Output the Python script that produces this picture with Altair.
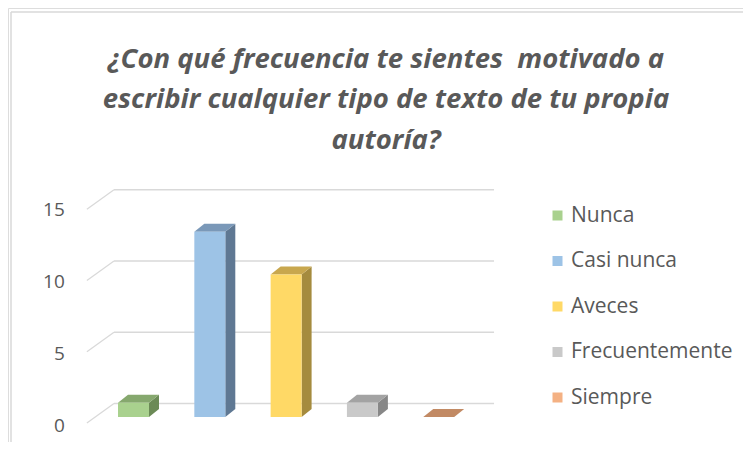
import altair as alt
import pandas as pd

# ---- data ----
categories = ["Nunca", "Casi nunca", "Aveces", "Frecuentemente", "Siempre"]
values = [1, 13, 10, 1, 0]
ticks = [0, 5, 10, 15]
front_colors = ["#A9D18E", "#9DC3E6", "#FFD966", "#C9C9C9", "#F4B183"]
top_colors = ["#86A86E", "#7A98B8", "#C8A74E", "#A3A3A3", "#C28A64"]
side_colors = ["#6B8A56", "#5F7893", "#A58B3E", "#878787", "#9E6E4E"]
title_lines = [
    "¿Con qué frecuencia te sientes\u00a0 motivado a",
    "escribir cualquier tipo de texto de tu propia",
    "autoría?",
]

# ---- 3-D look (style constants, in scale units) ----
hw = 0.203               # half bar width
tdx, tdy = 0.131, 0.56   # bar depth
front_x, front_dy = -0.611, -0.42   # front plane: left edge, vertical offset
back_x, back_dy = -0.256, 0.947     # back wall: left edge, vertical offset
wall_right = 4.725
label_x = -0.90
label_dy = -0.62

bars = pd.DataFrame({
    "cat": categories, "value": values, "base": [0] * len(values),
    "x1": [i - hw for i in range(5)], "x2": [i + hw for i in range(5)],
})

face_rows = []
for i, (c, v) in enumerate(zip(categories, values)):
    L, R = i - hw, i + hw
    # side face (parallelogram on the right)
    face_rows += [
        {"face": f"s{i}", "x": R, "lo": 0, "hi": v, "col": side_colors[i]},
        {"face": f"s{i}", "x": R + tdx, "lo": tdy, "hi": v + tdy, "col": side_colors[i]},
    ]
    # top face (parallelogram on top)
    face_rows += [
        {"face": f"t{i}", "x": L, "lo": v, "hi": v, "col": top_colors[i]},
        {"face": f"t{i}", "x": L + tdx, "lo": v, "hi": v + tdy, "col": top_colors[i]},
        {"face": f"t{i}", "x": R, "lo": v, "hi": v + tdy, "col": top_colors[i]},
        {"face": f"t{i}", "x": R + tdx, "lo": v + tdy, "hi": v + tdy, "col": top_colors[i]},
    ]
faces = pd.DataFrame(face_rows)

grid = pd.DataFrame({
    "xf": [front_x] * len(ticks), "yf": [t + front_dy for t in ticks],
    "xb": [back_x] * len(ticks), "yb": [t + back_dy for t in ticks],
    "xr": [wall_right] * len(ticks),
})
labels = pd.DataFrame({"t": [str(t) for t in ticks], "y": [t * 1.01 + label_dy for t in ticks],
                       "x": [label_x] * len(ticks)})

W, H = 735, 434
xs = alt.Scale(domain=[-1.645, 7.988], nice=False, zero=False)
ys = alt.Scale(domain=[-1.754, 28.70], nice=False, zero=False)

grid_back = alt.Chart(grid).mark_rule(color="#D9D9D9", strokeWidth=1.3).encode(
    x=alt.X("xb:Q", scale=xs, axis=None), x2="xr:Q", y=alt.Y("yb:Q", scale=ys, axis=None)
)
grid_diag = alt.Chart(grid).mark_rule(color="#D9D9D9", strokeWidth=1.3).encode(
    x=alt.X("xf:Q", scale=xs, axis=None), x2="xb:Q",
    y=alt.Y("yf:Q", scale=ys, axis=None), y2="yb:Q"
)
tick_text = alt.Chart(labels).mark_text(
    align="right", baseline="middle", font="Open Sans", fontSize=19, color="#595959"
).encode(x=alt.X("x:Q", scale=xs, axis=None), y=alt.Y("y:Q", scale=ys, axis=None), text="t:N")

face_layer = alt.Chart(faces).mark_area(opacity=1, interpolate="linear").encode(
    x=alt.X("x:Q", scale=xs, axis=None),
    y=alt.Y("lo:Q", scale=ys, axis=None), y2="hi:Q",
    detail="face:N", fill=alt.Fill("col:N", scale=None),
)

front = alt.Chart(bars).mark_bar(opacity=1).encode(
    x=alt.X("x1:Q", scale=xs, axis=None), x2="x2:Q",
    y=alt.Y("value:Q", scale=ys, axis=None), y2="base:Q",
    color=alt.Color("cat:N", scale=alt.Scale(domain=categories, range=front_colors),
                    legend=alt.Legend(
                        title=None, orient="none", legendX=539, legendY=197,
                        symbolType="square", symbolSize=100, symbolStrokeWidth=0,
                        symbolOpacity=1,
                        labelFont="Open Sans", labelFontSize=21, labelColor="#595959",
                        labelOffset=3, rowPadding=23.5, padding=0, labelLimit=400,
                    )),
)

title_text = alt.Chart(pd.DataFrame({"a": [0]})).mark_text(
    align="center", baseline="top", font="Open Sans", fontSize=27.5, fontWeight="bold",
    fontStyle="italic", color="#595959", lineHeight=40.5,
).encode(x=alt.value(378), y=alt.value(37.5), text=alt.value(title_lines))

border_top = alt.Chart(pd.DataFrame({"a": [0]})).mark_rule(color="#D9D9D9", strokeWidth=1.5).encode(
    x=alt.value(3), x2=alt.value(W + 8), y=alt.value(4)
)
border_left = alt.Chart(pd.DataFrame({"a": [0]})).mark_rule(color="#D9D9D9", strokeWidth=1.5).encode(
    x=alt.value(3), y=alt.value(4), y2=alt.value(H + 8)
)

chart = alt.layer(
    border_top, border_left, grid_back, grid_diag, tick_text, face_layer, front, title_text
).properties(
    width=W, height=H,
    autosize=alt.AutoSizeParams(type="none"),
    padding=0,
).configure_view(stroke=None).configure(background="white")

chart.save("out.html", embed_options={"renderer": "svg", "actions": False})
